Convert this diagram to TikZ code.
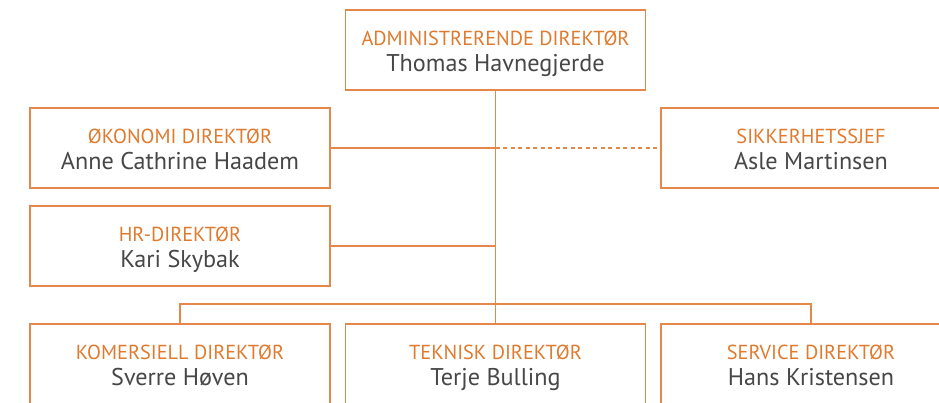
\documentclass[tikz,border=0pt]{standalone}
\usepackage{fontspec}
\setmainfont{PT Sans}
\usetikzlibrary{positioning}
\definecolor{oransje}{HTML}{E4874A}
\definecolor{tittelfarge}{HTML}{E07A2E}
\definecolor{navnfarge}{HTML}{474747}

\begin{document}
\begin{tikzpicture}[x=1pt,y=-1pt,
  boks/.style={draw=oransje, line width=1.2pt, minimum width=300pt, minimum height=80pt, inner sep=0pt},
  tittel/.style={text=tittelfarge, font=\fontsize{20.3}{20}\selectfont, anchor=base, inner sep=0pt},
  navn/.style={text=navnfarge, font=\fontsize{24.2}{24}\selectfont, anchor=base, inner sep=0pt},
  linje/.style={draw=oransje, line width=1.2pt}]
\clip (0,0) rectangle (939,402);
\useasboundingbox (0,0) rectangle (939,402);
\fill[white] (0,0) rectangle (939,402);
% boksene
\foreach \id/\x/\y/\tit/\nav in {adm/495.5/50/ADMINISTRERENDE DIREKTØR/Thomas Havnegjerde,
    oko/180/148/ØKONOMI DIREKTØR/Anne Cathrine Haadem,
    hr/180/246/HR-DIREKTØR/Kari Skybak,
    sik/811/148/SIKKERHETSSJEF/Asle Martinsen,
    kom/180/364/KOMERSIELL DIREKTØR/Sverre Høven,
    tek/495.5/364/TEKNISK DIREKTØR/Terje Bulling,
    ser/811/364/SERVICE DIREKTØR/Hans Kristensen}{
  \node[boks] (\id) at (\x,\y) {};
  \node[tittel] (\id-t) at ([yshift=-36pt]\id.north) {\tit};
  \node[navn] (\id-n) at ([yshift=-62pt]\id.north) {\nav};
}
% linjene
\coordinate (buss) at (adm.south |- 0,304);
\coordinate (okoJ) at (adm.south |- oko.east);
\coordinate (hrJ) at (adm.south |- hr.east);
\draw[linje] (adm.south) -- (buss);
\draw[linje] (oko.east) -- (okoJ);
\draw[linje, dash pattern=on 4pt off 3.5pt] (okoJ) -- (sik.west);
\draw[linje] (hr.east) -- (hrJ);
\draw[linje] (kom.north) |- (buss) -| (ser.north);
\draw[linje] (buss) -- (tek.north);
\end{tikzpicture}
\end{document}
